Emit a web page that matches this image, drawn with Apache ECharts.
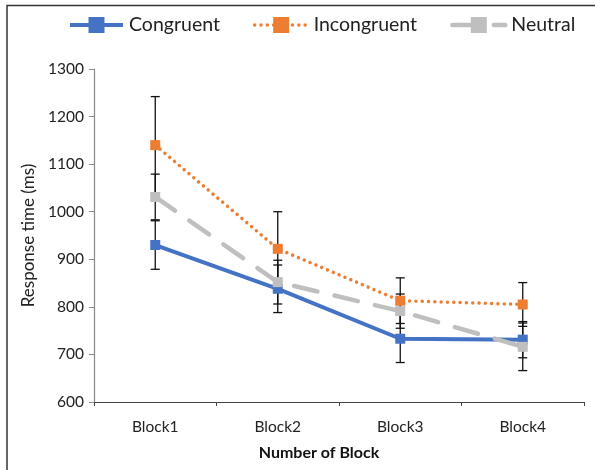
<!DOCTYPE html>
<html>
<head>
<meta charset="utf-8">
<script src="https://cdn.jsdelivr.net/npm/echarts@6/dist/echarts.min.js"></script>
<style>html,body{margin:0;padding:0;background:#fff}#c{width:595px;height:470px}</style>
</head>
<body>
<div id="c"></div>
<script>
const categories = ['Block1', 'Block2', 'Block3', 'Block4'];
const seriesNames = ['Congruent', 'Incongruent', 'Neutral'];
const congruent = [930, 838, 733, 731];
const incongruent = [1140, 922, 813, 805];
const neutral = [1031, 852, 791, 716];
const congruentErr = [51, 50, 50, 38];
const incongruentErr = [102, 78, 48, 46];
const neutralErr = [48, 46, 36, 50];
const yTicks = { min: 600, max: 1300, interval: 100 };

const FONT = 'Lato';
const chart = echarts.init(document.getElementById('c'), null, { renderer: 'canvas' });

function errData(vals, errs) {
  return vals.map((v, i) => [i, v - errs[i], v + errs[i]]);
}
function errSeries(name, vals, errs) {
  return {
    type: 'custom',
    name: name + ' err',
    z: 1,
    silent: true,
    data: errData(vals, errs),
    renderItem: function (params, api) {
      const lo = api.coord([api.value(0), api.value(1)]);
      const hi = api.coord([api.value(0), api.value(2)]);
      const hw = 4.5;
      const st = { stroke: '#111', lineWidth: 1.3 };
      return {
        type: 'group',
        children: [
          { type: 'line', shape: { x1: lo[0], y1: lo[1], x2: hi[0], y2: hi[1] }, style: st },
          { type: 'line', shape: { x1: lo[0] - hw, y1: lo[1], x2: lo[0] + hw, y2: lo[1] }, style: st },
          { type: 'line', shape: { x1: hi[0] - hw, y1: hi[1], x2: hi[0] + hw, y2: hi[1] }, style: st }
        ]
      };
    }
  };
}

const option = {
  animation: false,
  backgroundColor: '#fff',
  textStyle: { fontFamily: FONT },
  graphic: [{
    type: 'rect',
    shape: { x: 7, y: 5.5, width: 620, height: 500 },
    style: { fill: 'none', stroke: '#333', lineWidth: 1.5 },
    silent: true
  }],
  legend: {
    data: seriesNames,
    left: 68,
    top: 15,
    padding: 0,
    itemWidth: 53,
    itemHeight: 20,
    itemGap: 33,
    lineStyle: { width: 'inherit' },
    textStyle: { fontFamily: FONT, fontSize: 19.5, color: '#222', padding: [0, 0, 0, 1] }
  },
  grid: { left: 94, right: 11, top: 69, bottom: 68, containLabel: false },
  xAxis: {
    type: 'category',
    data: categories,
    name: 'Number of Block',
    nameLocation: 'middle',
    nameGap: 43,
    nameTextStyle: { fontFamily: FONT, fontSize: 16, fontWeight: 'bold', color: '#111', padding: [0, 40, 0, 0] },
    axisLine: { lineStyle: { color: '#444', width: 1.2 } },
    axisTick: { show: true, length: 4, lineStyle: { color: '#444' } },
    axisLabel: { fontFamily: FONT, fontSize: 15.5, color: '#222', margin: 17 }
  },
  yAxis: {
    type: 'value',
    min: yTicks.min,
    max: yTicks.max,
    interval: yTicks.interval,
    name: 'Response time (ms)',
    nameLocation: 'middle',
    nameGap: 48,
    nameTextStyle: { fontFamily: FONT, fontSize: 17, color: '#222' },
    axisLine: { show: true, lineStyle: { color: '#888', width: 1.2 } },
    axisTick: { show: true, length: 5, lineStyle: { color: '#888' } },
    axisLabel: { fontFamily: FONT, fontSize: 15.5, color: '#222', margin: 10, formatter: function (v) { return String(v); } },
    splitLine: { show: false }
  },
  series: [
    errSeries('Congruent', congruent, congruentErr),
    errSeries('Incongruent', incongruent, incongruentErr),
    errSeries('Neutral', neutral, neutralErr),
    {
      name: 'Congruent', type: 'line', z: 3, data: congruent,
      symbol: 'rect', symbolSize: 10,
      itemStyle: { color: '#4472C4' },
      lineStyle: { color: '#4472C4', width: 4 }
    },
    {
      name: 'Incongruent', type: 'line', z: 3, data: incongruent,
      symbol: 'rect', symbolSize: 10,
      itemStyle: { color: '#ED7D31' },
      lineStyle: { color: '#ED7D31', width: 3.5, type: [0.01, 6.3], cap: 'round' }
    },
    {
      name: 'Neutral', type: 'line', z: 3, data: neutral,
      symbol: 'rect', symbolSize: 10,
      itemStyle: { color: '#BFBFBF' },
      lineStyle: { color: '#BFBFBF', width: 4.5, type: [24, 17.5], cap: 'round' }
    }
  ]
};
chart.setOption(option);
</script>
</body>
</html>
